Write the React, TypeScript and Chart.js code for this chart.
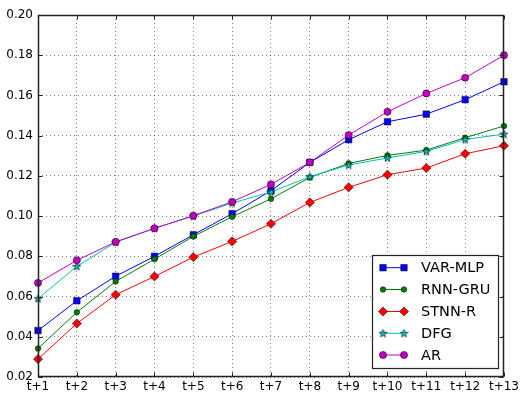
import React, { useEffect, useRef } from "react";
import { Chart, registerables } from "chart.js";
import { drawPoint } from "chart.js/helpers";

Chart.register(...registerables);

const categories = ["t+1", "t+2", "t+3", "t+4", "t+5", "t+6", "t+7", "t+8", "t+9", "t+10", "t+11", "t+12", "t+13"];
const yTicks = [0.02, 0.04, 0.06, 0.08, 0.1, 0.12, 0.14, 0.16, 0.18, 0.2];

const varMlp = [0.0431, 0.0579, 0.0701, 0.08, 0.0907, 0.1012, 0.1126, 0.1267, 0.138, 0.1469, 0.1507, 0.1579, 0.1668];
const rnnGru = [0.0342, 0.0522, 0.0675, 0.0786, 0.0899, 0.0997, 0.1086, 0.1192, 0.1262, 0.1302, 0.1328, 0.139, 0.1448];
const stnnR = [0.0289, 0.0466, 0.0609, 0.07, 0.0796, 0.0874, 0.0962, 0.1068, 0.1143, 0.1206, 0.1239, 0.131, 0.135];
const dfg = [0.059, 0.075, 0.087, 0.094, 0.1, 0.1065, 0.112, 0.1196, 0.1254, 0.1289, 0.1322, 0.1381, 0.1408];
const ar = [0.0668, 0.078, 0.0872, 0.0939, 0.1002, 0.1071, 0.1158, 0.1267, 0.1403, 0.1519, 0.161, 0.1688, 0.18];

function makeStar(color: string): HTMLCanvasElement {
  const c = document.createElement("canvas");
  c.width = 9;
  c.height = 9;
  const g = c.getContext("2d")!;
  const cx = 4.5, cy = 4.8, R = 4.2, r = 1.8;
  g.beginPath();
  for (let i = 0; i < 10; i++) {
    const a = -Math.PI / 2 + (i * Math.PI) / 5;
    const rad = i % 2 === 0 ? R : r;
    const x = cx + rad * Math.cos(a);
    const y = cy + rad * Math.sin(a);
    if (i === 0) g.moveTo(x, y);
    else g.lineTo(x, y);
  }
  g.closePath();
  g.fillStyle = color;
  g.fill();
  g.lineWidth = 0.6;
  g.strokeStyle = "#000";
  g.stroke();
  return c;
}

export default function App() {
  const ref = useRef<HTMLCanvasElement | null>(null);

  useEffect(() => {
    document.body.style.margin = "0";
    const canvas = ref.current!;
    const star = makeStar("#00bfbf");
    const font = "'DejaVu Sans', sans-serif";

    const series = [
      { label: "VAR-MLP", data: varMlp, color: "#0000ff", pointStyle: "rect" as any, radius: 4.6, order: 5 },
      { label: "RNN-GRU", data: rnnGru, color: "#008000", pointStyle: "circle" as any, radius: 2.8, order: 4 },
      { label: "STNN-R", data: stnnR, color: "#ff0000", pointStyle: "rectRot" as any, radius: 4.6, order: 3 },
      { label: "DFG", data: dfg, color: "#00bfbf", pointStyle: star as any, radius: 4, order: 2 },
      { label: "AR", data: ar, color: "#bf00bf", pointStyle: "circle" as any, radius: 3.6, order: 1 },
    ];

    const framePlugin = {
      id: "frame",
      afterDraw(chart: any) {
        const { ctx, chartArea: a, scales } = chart;
        ctx.save();
        ctx.strokeStyle = "#222";
        ctx.lineWidth = 1.5;
        ctx.setLineDash([]);
        ctx.beginPath();
        const L = Math.round(a.left) + 0.5, R = Math.round(a.right) - 0.5, T = Math.round(a.top) + 0.5, B = Math.round(a.bottom) - 0.5;
        ctx.rect(L, T, R - L, B - T);
        ctx.stroke();
        // inward ticks
        ctx.lineWidth = 1;
        ctx.beginPath();
        const tl = 4;
        scales.x.ticks.forEach((_t: any, i: number) => {
          const x = Math.round(scales.x.getPixelForTick(i)) + 0.5;
          ctx.moveTo(x, B); ctx.lineTo(x, B - tl);
          ctx.moveTo(x, T); ctx.lineTo(x, T + tl);
        });
        scales.y.ticks.forEach((_t: any, i: number) => {
          const y = Math.round(scales.y.getPixelForTick(i)) + 0.5;
          ctx.moveTo(L, y); ctx.lineTo(L + tl, y);
          ctx.moveTo(R, y); ctx.lineTo(R - tl, y);
        });
        ctx.stroke();

        // legend box
        const bx = 372.5, by = 255.5, bw = 126, bh = 113;
        ctx.fillStyle = "#fff";
        ctx.fillRect(bx, by, bw, bh);
        ctx.lineWidth = 1.2;
        ctx.strokeStyle = "#222";
        ctx.strokeRect(bx, by, bw, bh);
        const rowY = [267.7, 289.5, 311.5, 333.3, 355];
        ctx.font = `14.5px ${font}`;
        ctx.textBaseline = "middle";
        ctx.textAlign = "left";
        series.forEach((s, i) => {
          const y = rowY[i];
          ctx.strokeStyle = s.color;
          ctx.lineWidth = 1;
          ctx.beginPath();
          ctx.moveTo(383, y);
          ctx.lineTo(404, y);
          ctx.stroke();
          ctx.fillStyle = s.color;
          ctx.strokeStyle = "#000";
          ctx.lineWidth = 0.5;
          [383, 404].forEach((x) => {
            drawPoint(ctx, { pointStyle: s.pointStyle, radius: s.radius, rotation: 0, borderWidth: 0.5 } as any, x, y);
          });
          ctx.fillStyle = "#000";
          ctx.fillText(s.label, 421, y + 1);
        });
        ctx.restore();
      },
    };

    const chart = new Chart(canvas, {
      type: "line",
      data: {
        labels: categories,
        datasets: series.map((s) => ({
          label: s.label,
          data: s.data,
          borderColor: s.color,
          backgroundColor: s.color,
          borderWidth: 1,
          pointStyle: s.pointStyle,
          pointRadius: s.radius,
          pointBorderColor: "#000",
          pointBorderWidth: 0.5,
          pointBackgroundColor: s.color,
          tension: 0,
          fill: false,
          order: s.order,
        })),
      },
      options: {
        responsive: false,
        animation: false,
        layout: { padding: { top: 15, right: 16, left: 0, bottom: 0 } },
        plugins: { legend: { display: false }, tooltip: { enabled: false } },
        scales: {
          x: {
            type: "category",
            offset: false,
            grid: { color: "rgba(0,0,0,0.5)", lineWidth: 1, drawTicks: false },
            border: { display: false, dash: [1, 3] },
            ticks: {
              color: "#000",
              font: { family: font, size: 12 },
              padding: 3,
              autoSkip: false,
              maxRotation: 0,
              minRotation: 0,
            },
            afterFit(scale: any) {
              scale.height = 17;
            },
          },
          y: {
            min: 0.02,
            max: 0.2,
            grid: { color: "rgba(0,0,0,0.5)", lineWidth: 1, drawTicks: false },
            border: { display: false, dash: [1, 3] },
            afterBuildTicks(axis: any) {
              axis.ticks = yTicks.map((v) => ({ value: v }));
            },
            ticks: {
              color: "#000",
              font: { family: font, size: 12 },
              padding: 5,
              callback: (v: any) => Number(v).toFixed(2),
            },
            afterFit(scale: any) {
              scale.width = 38;
            },
          },
        },
      },
      plugins: [framePlugin],
    });
    return () => chart.destroy();
  }, []);

  return <canvas ref={ref} width={522} height={394} style={{ display: "block" }} />;
}
